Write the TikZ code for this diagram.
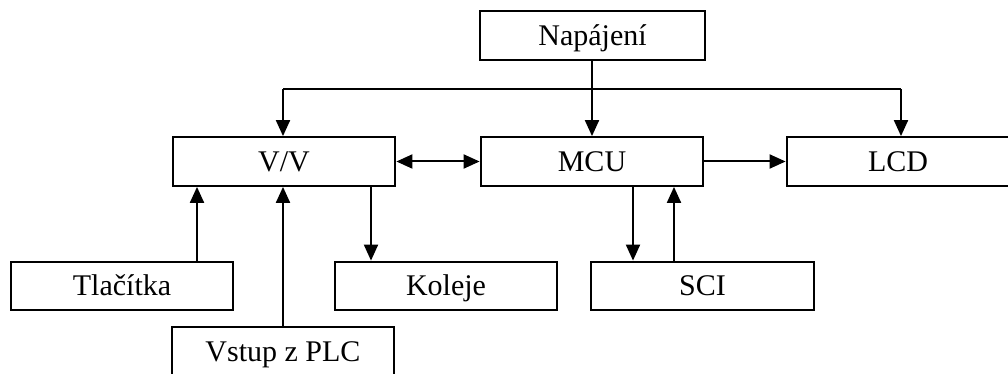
\documentclass[tikz,border=0pt]{standalone}
\usepackage{fontspec}
\setmainfont{Liberation Serif}
\usetikzlibrary{arrows.meta}
\begin{document}
\begin{tikzpicture}[x=0.75pt,y=-0.75pt,
  block/.style={draw,line width=1.6pt,minimum width=167pt,minimum height=36.5pt,
    inner sep=0pt,text height=20.4pt,text depth=5.4pt,
    font=\fontsize{22.5}{27}\selectfont},
  arr/.style={line width=1.5pt,-{Triangle[length=12pt,width=10.5pt]}},
  biarr/.style={line width=1.5pt,{Triangle[length=12pt,width=10.5pt]}-{Triangle[length=12pt,width=10.5pt]}},
  ln/.style={line width=1.5pt}]
\useasboundingbox (0,0) rectangle (1008,374);

% blocks
\node[block,minimum width=169pt] (nap) at (592.5,35.5) {Napájení};
\node[block] (vv)  at (284,161.5) {V/V};
\node[block] (mcu) at (592,161.5) {MCU};
\node[block] (lcd) at (898,161.5) {LCD};
\node[block] (tl)  at (122,286) {Tlačítka};
\node[block] (kol) at (446,286) {Koleje};
\node[block] (sci) at (702.5,286) {SCI};
\node[block] (plc) at (283,351.5) {Vstup z PLC};

% power distribution
\coordinate (busL) at (283,89);
\coordinate (busR) at (901,89);
\draw[arr] (nap.south -| mcu.north) -- (mcu.north);
\draw[ln] (busL) -- (busR);
\draw[arr] (busL) -- (busL |- vv.north);
\draw[arr] (busR) -- (busR |- lcd.north);

% data links in the top row
\draw[biarr] (vv.east) -- (mcu.west);
\draw[arr] (mcu.east) -- (lcd.west);

% inputs and outputs of V/V
\coordinate (t1) at (197,262);
\draw[arr] (t1 |- tl.north) -- (t1 |- vv.south);
\draw[arr] (plc.north) -- (plc.north |- vv.south);
\coordinate (k1) at (371,187);
\draw[arr] (k1 |- vv.south) -- (k1 |- kol.north);

% serial interface
\coordinate (s1) at (633,187);
\coordinate (s2) at (674,187);
\draw[arr] (s1 |- mcu.south) -- (s1 |- sci.north);
\draw[arr] (s2 |- sci.north) -- (s2 |- mcu.south);
\end{tikzpicture}
\end{document}
